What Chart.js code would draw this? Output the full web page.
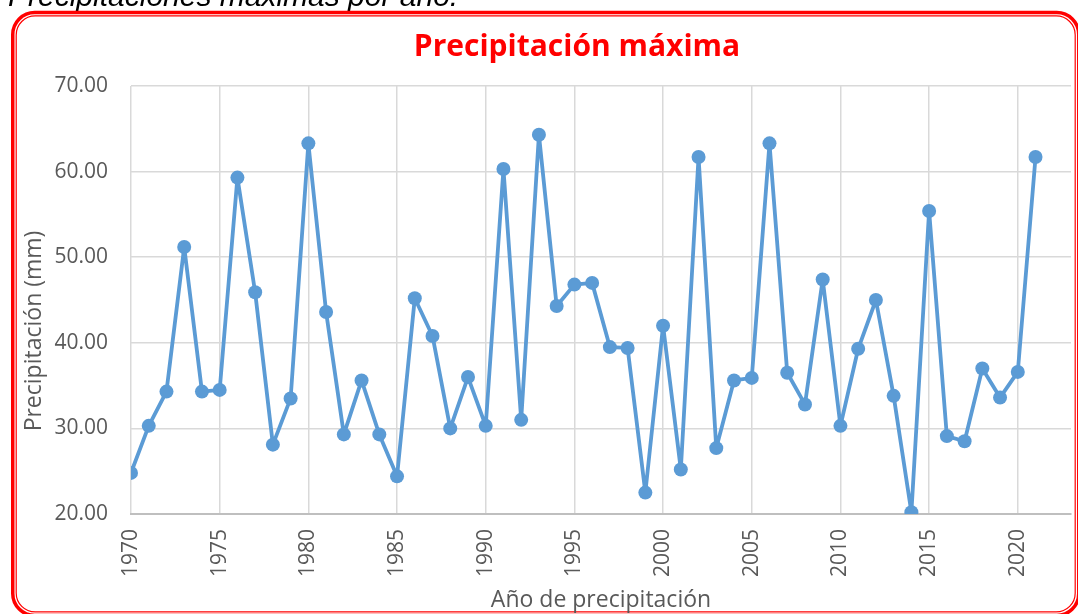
<!DOCTYPE html>
<html>
<head>
<meta charset="utf-8">
<script src="https://cdn.jsdelivr.net/npm/chart.js@4.4.1/dist/chart.umd.min.js"></script>
<style>
  html, body { margin: 0; padding: 0; background: #fff; }
  #wrap { position: relative; width: 1078px; height: 614px; overflow: hidden; }
</style>
</head>
<body>
<div id="wrap"><canvas id="grafico"></canvas></div>
<script>
// Precipitación máxima anual (mm)
const anios = [
  1970, 1971, 1972, 1973, 1974, 1975, 1976, 1977, 1978, 1979,
  1980, 1981, 1982, 1983, 1984, 1985, 1986, 1987, 1988, 1989,
  1990, 1991, 1992, 1993, 1994, 1995, 1996, 1997, 1998, 1999,
  2000, 2001, 2002, 2003, 2004, 2005, 2006, 2007, 2008, 2009,
  2010, 2011, 2012, 2013, 2014, 2015, 2016, 2017, 2018, 2019,
  2020, 2021
];
const precipMax = [
  24.8, 30.3, 34.3, 51.2, 34.3, 34.5, 59.3, 45.9, 28.1, 33.5,
  63.3, 43.6, 29.3, 35.6, 29.3, 24.4, 45.2, 40.8, 30.0, 36.0,
  30.3, 60.3, 31.0, 64.3, 44.3, 46.8, 47.0, 39.5, 39.4, 22.5,
  42.0, 25.2, 61.7, 27.7, 35.6, 35.9, 63.3, 36.5, 32.8, 47.4,
  30.3, 39.3, 45.0, 33.8, 20.2, 55.4, 29.1, 28.5, 37.0, 33.6,
  36.6, 61.7
];
const ticksAnio = [1970, 1975, 1980, 1985, 1990, 1995, 2000, 2005, 2010, 2015, 2020];

const GRIS = '#595959';
const AZUL = '#5B9BD5';
const FUENTE = "'Open Sans', sans-serif";

// encabezado, marco rojo doble, título y rótulo del eje Y
const marco = {
  id: 'marco',
  beforeDraw(chart) {
    const ctx = chart.ctx;
    ctx.save();
    ctx.fillStyle = '#fff';
    ctx.fillRect(0, 0, chart.width, chart.height);

    ctx.fillStyle = '#000';
    ctx.font = "italic 30px 'Liberation Sans', Arial, sans-serif";
    ctx.textBaseline = 'alphabetic';
    ctx.textAlign = 'left';
    ctx.fillText('Precipitaciones máximas por año.', 8, 6);

    ctx.strokeStyle = '#ff0000';
    ctx.lineWidth = 3.5;
    ctx.beginPath();
    ctx.roundRect(12.75, 12.5, 1066, 603, 22);
    ctx.stroke();
    ctx.lineWidth = 1.2;
    ctx.beginPath();
    ctx.roundRect(16.2, 15.9, 1059, 596, 19);
    ctx.stroke();

    ctx.fillStyle = '#ff0000';
    ctx.font = 'bold 30px ' + FUENTE;
    ctx.textAlign = 'center';
    ctx.fillText('Precipitación máxima', 577, 56);

    ctx.fillStyle = GRIS;
    ctx.font = '23px ' + FUENTE;
    ctx.translate(34, 331);
    ctx.rotate(-Math.PI / 2);
    ctx.textBaseline = 'middle';
    ctx.fillText('Precipitación (mm)', 0, 0);
    ctx.restore();
  }
};

new Chart(document.getElementById('grafico'), {
  type: 'line',
  data: {
    datasets: [{
      label: 'Precipitación máxima',
      data: anios.map((a, i) => ({ x: a, y: precipMax[i] })),
      borderColor: AZUL,
      backgroundColor: AZUL,
      borderWidth: 3.8,
      borderJoinStyle: 'round',
      borderCapStyle: 'round',
      pointRadius: 7,
      pointHoverRadius: 7,
      pointBackgroundColor: AZUL,
      pointBorderWidth: 0,
      tension: 0
    }]
  },
  options: {
    responsive: true,
    maintainAspectRatio: false,
    animation: false,
    layout: { padding: { left: 0, right: 7, top: 86, bottom: 0 } },
    plugins: {
      legend: { display: false },
      tooltip: { enabled: false }
    },
    scales: {
      x: {
        type: 'linear',
        min: 1970,
        max: 2023,
        afterBuildTicks: s => { s.ticks = ticksAnio.map(v => ({ value: v })); },
        afterFit: s => { s.height = 100; },
        grid: { color: '#d9d9d9', lineWidth: 1.5, drawTicks: false },
        border: { color: '#bfbfbf', width: 2 },
        ticks: {
          color: GRIS,
          font: { family: FUENTE, size: 21 },
          minRotation: 90,
          maxRotation: 90,
          padding: 15,
          autoSkip: false,
          callback: v => String(v)
        },
        title: {
          display: true,
          text: 'Año de precipitación',
          color: GRIS,
          font: { family: FUENTE, size: 23 },
          padding: { top: 0, bottom: 0 }
        }
      },
      y: {
        min: 20,
        max: 70,
        afterFit: s => { s.width = 131; },
        grid: { color: '#d9d9d9', lineWidth: 1.5, drawTicks: false },
        border: { display: false },
        ticks: {
          stepSize: 10,
          color: GRIS,
          font: { family: FUENTE, size: 21 },
          padding: 23,
          callback: v => v.toFixed(2)
        }
      }
    }
  },
  plugins: [marco]
});
</script>
</body>
</html>
